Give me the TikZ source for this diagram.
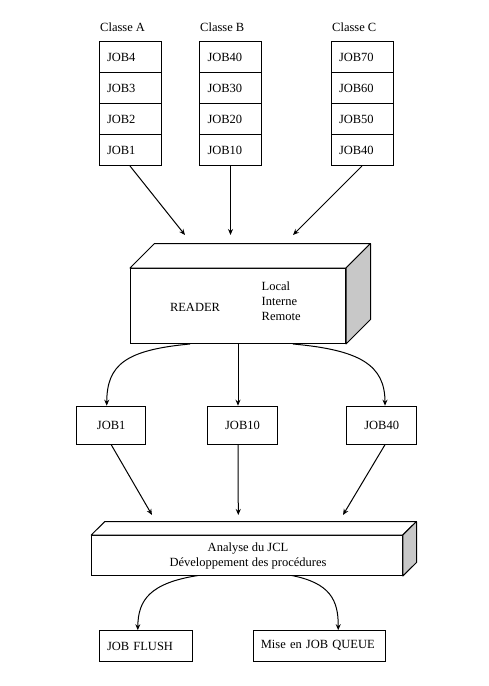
\documentclass[tikz,border=0pt]{standalone}
\usepackage{fontspec}
\setmainfont{Liberation Serif}
\usetikzlibrary{arrows.meta,calc}
\definecolor{sidegray}{RGB}{200,200,200}
\begin{document}
\begin{tikzpicture}[x=1pt,y=-1pt,
  every node/.style={font=\fontsize{12.5}{15}\selectfont},
  stackbox/.style={draw,line width=1pt,minimum height=31pt,text width=46pt,inner xsep=8pt,inner ysep=0pt,align=left},
  jobbox/.style={draw,line width=1pt,minimum height=38pt,minimum width=70pt,inner sep=0pt},
  endbox/.style={draw,line width=1pt,minimum height=31pt,inner ysep=0pt,align=left},
  front/.style={draw,line width=1pt,fill=white,inner sep=0pt},
  face/.style={draw,line width=1pt,line join=round},
  conn/.style={line width=1pt,-{Stealth[length=6pt,width=5pt]}},
  plain/.style={inner sep=0pt}
]
\useasboundingbox (0,0) rectangle (489,686);

% class labels
\node[plain,anchor=west] (la) at (100,27) {Classe A};
\node[plain,anchor=west] (lb) at (200,27) {Classe B};
\node[plain,anchor=west] (lc) at (332,27) {Classe C};

% stacks
\node[stackbox] (a4) at (130,57) {JOB4};
\node[stackbox] (a3) at (130,88) {JOB3};
\node[stackbox] (a2) at (130,119) {JOB2};
\node[stackbox] (a1) at (130,150) {JOB1};
\node[stackbox] (b4) at (230.5,57) {JOB40};
\node[stackbox] (b3) at (230.5,88) {JOB30};
\node[stackbox] (b2) at (230.5,119) {JOB20};
\node[stackbox] (b1) at (230.5,150) {JOB10};
\node[stackbox] (c4) at (362,57) {JOB70};
\node[stackbox] (c3) at (362,88) {JOB60};
\node[stackbox] (c2) at (362,119) {JOB50};
\node[stackbox] (c1) at (362,150) {JOB40};

% reader box
\node[front,minimum width=215pt,minimum height=75pt] (reader) at (238,306) {};
\draw[face,fill=white] (reader.north west) -- ++(24.5,-24.5) -- ($(reader.north east)+(24.5,-24.5)$) -- (reader.north east) -- cycle;
\draw[face,fill=sidegray] (reader.north east) -- ++(24.5,-24.5) -- ($(reader.south east)+(24.5,-24.5)$) -- (reader.south east) -- cycle;
\node[plain] (rtxt) at (195,307) {READER};
\node[plain,anchor=west,align=left] (rmodes) at (261.5,301) {Local\\Interne\\Remote};

\coordinate (ea) at (185,235);
\coordinate (eb) at (230.5,235);
\coordinate (ec) at (293,235);
\draw[conn] (a1.south) -- (ea);
\draw[conn] (b1.south) -- (eb);
\draw[conn] (c1.south) -- (ec);

% middle jobs
\node[jobbox,minimum width=69pt] (j1) at (111.2,425.2) {JOB1};
\node[jobbox] (j10) at (242.5,425.2) {JOB10};
\node[jobbox] (j40) at (381.7,425.2) {JOB40};

\coordinate (rl) at ($(reader.south)+(-48,0)$);
\coordinate (rr) at ($(reader.south)+(55,0)$);
\draw[conn] (rl) .. controls (125,350) and (107,365) .. ([xshift=-4.5pt]j1.north);
\draw[conn] (reader.south) -- (reader.south |- j10.north);
\draw[conn] (rr) .. controls (360,350) and (385,365) .. ([xshift=3.3pt]j40.north);

% analyse box
\node[front,minimum width=310.6pt,minimum height=40pt,align=center] (ana) at (247,555.5) {};
\draw[face,fill=white] (ana.north west) -- ++(13.7,-13.5) -- ($(ana.north east)+(13.7,-13.5)$) -- (ana.north east) -- cycle;
\draw[face,fill=sidegray] (ana.north east) -- ++(13.7,-13.5) -- ($(ana.south east)+(13.7,-13.5)$) -- (ana.south east) -- cycle;
\node[plain,align=center] (anatxt) at (248,556) {Analyse du JCL\\Développement des procédures};

\coordinate (fa) at (152,515);
\coordinate (fb) at (238.3,515);
\coordinate (fc) at (343,515);
\draw[conn] (j1.south) -- (fa);
\draw[conn] (reader.south |- j10.south) -- (fb);
\draw[conn] ([xshift=3.3pt]j40.south) -- (fc);

% bottom boxes
\node[endbox,text width=77.6pt,inner xsep=7.7pt] (flush) at (145.8,646.2) {JOB FLUSH};
\node[endbox,text width=116.7pt,inner xsep=7.5pt] (queue) at (319.2,646.2) {\raisebox{3pt}{Mise en JOB QUEUE}};

\coordinate (al) at (198,575.5);
\coordinate (ar) at (291.7,575.5);
\draw[conn] (al) .. controls (150,583) and (138,600) .. ([xshift=-8pt]flush.north);
\draw[conn] (ar) .. controls (330,583) and (338.5,600) .. ([xshift=19pt]queue.north);
\end{tikzpicture}
\end{document}
